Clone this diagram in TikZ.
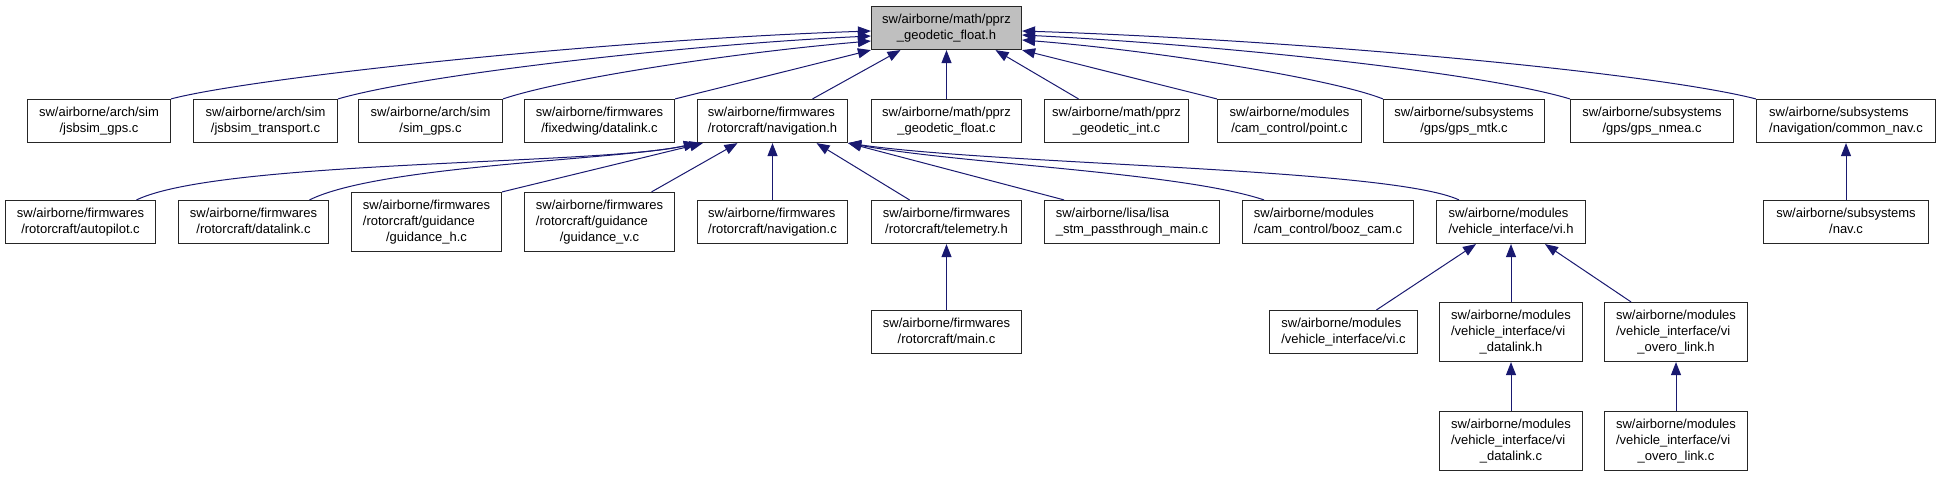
\documentclass[tikz,border=0pt]{standalone}
\usepackage{fontspec}
\setmainfont{Liberation Sans}
\usetikzlibrary{arrows.meta}
\definecolor{midnight}{HTML}{191970}
\definecolor{focusgray}{HTML}{BFBFBF}
% upper lines left, last line centred
\newcommand{\flabel}[2]{\begin{tabular}{@{}l@{}}#1\\\multicolumn{1}{@{}c@{}}{#2}\end{tabular}}

\begin{document}
\begin{tikzpicture}[x=1pt,y=-1pt,
	file/.style={draw=black!85, line width=1.2pt, fill=white, inner sep=0pt,
		font=\fontsize{13}{16}\selectfont, minimum height=43pt},
	tall/.style={minimum height=59pt},
	dep/.style={draw=midnight, line width=1pt, -{Triangle[length=13pt,width=10pt]}}]
	
	\useasboundingbox (0,0) rectangle (1939,477);
	
	% Kopf
	\node[file, fill=focusgray, minimum width=150pt] (pf) at (946.5,28) {\flabel{sw/airborne/math/pprz}{\_geodetic\_float.h}};
	
	% Reihe 1
	\node[file, minimum width=143pt] (jgps) at (99,121) {\flabel{sw/airborne/arch/sim}{/jsbsim\_gps.c}};
	\node[file, minimum width=144pt] (jtrans) at (265.5,121) {\flabel{sw/airborne/arch/sim}{/jsbsim\_transport.c}};
	\node[file, minimum width=144pt] (simgps) at (430.5,121) {\flabel{sw/airborne/arch/sim}{/sim\_gps.c}};
	\node[file, minimum width=150pt] (fwdl) at (599.5,121) {\flabel{sw/airborne/firmwares}{/fixedwing/datalink.c}};
	\node[file, minimum width=150pt] (nh) at (772.5,121) {\flabel{sw/airborne/firmwares}{/rotorcraft/navigation.h}};
	\node[file, minimum width=150pt] (pfc) at (946.5,121) {\flabel{sw/airborne/math/pprz}{\_geodetic\_float.c}};
	\node[file, minimum width=144pt] (pint) at (1116.5,121) {\flabel{sw/airborne/math/pprz}{\_geodetic\_int.c}};
	\node[file, minimum width=144pt] (point) at (1289.5,121) {\flabel{sw/airborne/modules}{/cam\_control/point.c}};
	\node[file, minimum width=161pt] (gpsmtk) at (1464,121) {\flabel{sw/airborne/subsystems}{/gps/gps\_mtk.c}};
	\node[file, minimum width=163pt] (gpsnmea) at (1652,121) {\flabel{sw/airborne/subsystems}{/gps/gps\_nmea.c}};
	\node[file, minimum width=179pt] (cnav) at (1846,121) {\flabel{sw/airborne/subsystems}{/navigation/common\_nav.c}};
	
	% Reihe 2
	\node[file, minimum width=150pt] (ap) at (80.5,222) {\flabel{sw/airborne/firmwares}{/rotorcraft/autopilot.c}};
	\node[file, minimum width=150pt] (rdl) at (253.5,222) {\flabel{sw/airborne/firmwares}{/rotorcraft/datalink.c}};
	\node[file, tall, minimum width=150pt] (guih) at (426.5,222) {\flabel{sw/airborne/firmwares\\/rotorcraft/guidance}{/guidance\_h.c}};
	\node[file, tall, minimum width=150pt] (guiv) at (599.5,222) {\flabel{sw/airborne/firmwares\\/rotorcraft/guidance}{/guidance\_v.c}};
	\node[file, minimum width=150pt] (navc) at (772.5,222) {\flabel{sw/airborne/firmwares}{/rotorcraft/navigation.c}};
	\node[file, minimum width=150pt] (tele) at (946.5,222) {\flabel{sw/airborne/firmwares}{/rotorcraft/telemetry.h}};
	\node[file, minimum width=175pt] (stm) at (1132,222) {\flabel{sw/airborne/lisa/lisa}{\_stm\_passthrough\_main.c}};
	\node[file, minimum width=171pt] (booz) at (1328,222) {\flabel{sw/airborne/modules}{/cam\_control/booz\_cam.c}};
	\node[file, minimum width=149pt] (vih) at (1511,222) {\flabel{sw/airborne/modules}{/vehicle\_interface/vi.h}};
	\node[file, minimum width=165pt] (navsub) at (1846,222) {\flabel{sw/airborne/subsystems}{/nav.c}};
	
	% Reihe 3
	\node[file, minimum width=150pt] (main) at (946.5,332) {\flabel{sw/airborne/firmwares}{/rotorcraft/main.c}};
	\node[file, minimum width=148pt] (vic) at (1343.5,332) {\flabel{sw/airborne/modules}{/vehicle\_interface/vi.c}};
	\node[file, tall, minimum width=143pt] (vidlh) at (1511,332) {\flabel{sw/airborne/modules\\/vehicle\_interface/vi}{\_datalink.h}};
	\node[file, tall, minimum width=143pt] (viovh) at (1676,332) {\flabel{sw/airborne/modules\\/vehicle\_interface/vi}{\_overo\_link.h}};
	
	% Reihe 4
	\node[file, tall, minimum width=143pt] (vidlc) at (1511,441) {\flabel{sw/airborne/modules\\/vehicle\_interface/vi}{\_datalink.c}};
	\node[file, tall, minimum width=143pt] (viovc) at (1676,441) {\flabel{sw/airborne/modules\\/vehicle\_interface/vi}{\_overo\_link.c}};
	
	% Pfeile zum Kopf
	\draw[dep] (jgps.north east) .. controls (250,78) and (600,40) .. ([yshift=-3pt]pf.west);
	\draw[dep] (jtrans.north east) .. controls (420,75) and (680,45) .. ([yshift=-8pt]pf.west);
	\draw[dep] (simgps.north east) .. controls (565,78) and (740,52) .. ([yshift=-13pt]pf.west);
	\draw[dep] (fwdl.north east) -- (pf.south west);
	\draw[dep] ([xshift=40pt]nh.north) -- ([xshift=-46pt]pf.south);
	\draw[dep] (pfc) -- (pf);
	\draw[dep] ([xshift=-38pt]pint.north) -- ([xshift=49pt]pf.south);
	\draw[dep] (point.north west) -- (pf.south east);
	\draw[dep] (gpsmtk.north west) .. controls (1330,78) and (1150,50) .. ([yshift=-12pt]pf.east);
	\draw[dep] (gpsnmea.north west) .. controls (1480,72) and (1220,45) .. ([yshift=-7pt]pf.east);
	\draw[dep] (cnav.north west) .. controls (1650,72) and (1300,40) .. ([yshift=-3pt]pf.east);
	
	% Pfeile zu navigation.h
	\draw[dep] ([xshift=56pt]ap.north) .. controls (220,160) and (600,165) .. (nh.south west);
	\draw[dep] ([xshift=56pt]rdl.north) .. controls (380,165) and (620,160) .. (nh.south west);
	\draw[dep] (guih.north east) -- ([xshift=6pt]nh.south west);
	\draw[dep] ([xshift=52pt]guiv.north) -- ([xshift=-35pt]nh.south);
	\draw[dep] (navc) -- (nh);
	\draw[dep] ([xshift=-37pt]tele.north) -- ([xshift=44pt]nh.south);
	\draw[dep] ([xshift=-68pt]stm.north) -- (nh.south east);
	\draw[dep] ([xshift=-64pt]booz.north) .. controls (1180,172) and (960,164) .. (nh.south east);
	\draw[dep] ([xshift=-52pt]vih.north) .. controls (1390,168) and (1000,165) .. (nh.south east);
	
	% untere Ebenen
	\draw[dep] (main) -- (tele);
	\draw[dep] ([xshift=33pt]vic.north) -- ([xshift=-35pt]vih.south);
	\draw[dep] (vidlh) -- (vih);
	\draw[dep] ([xshift=-45pt]viovh.north) -- ([xshift=34pt]vih.south);
	\draw[dep] (vidlc) -- (vidlh);
	\draw[dep] (viovc) -- (viovh);
	\draw[dep] (navsub) -- (cnav);
	
\end{tikzpicture}
\end{document}
